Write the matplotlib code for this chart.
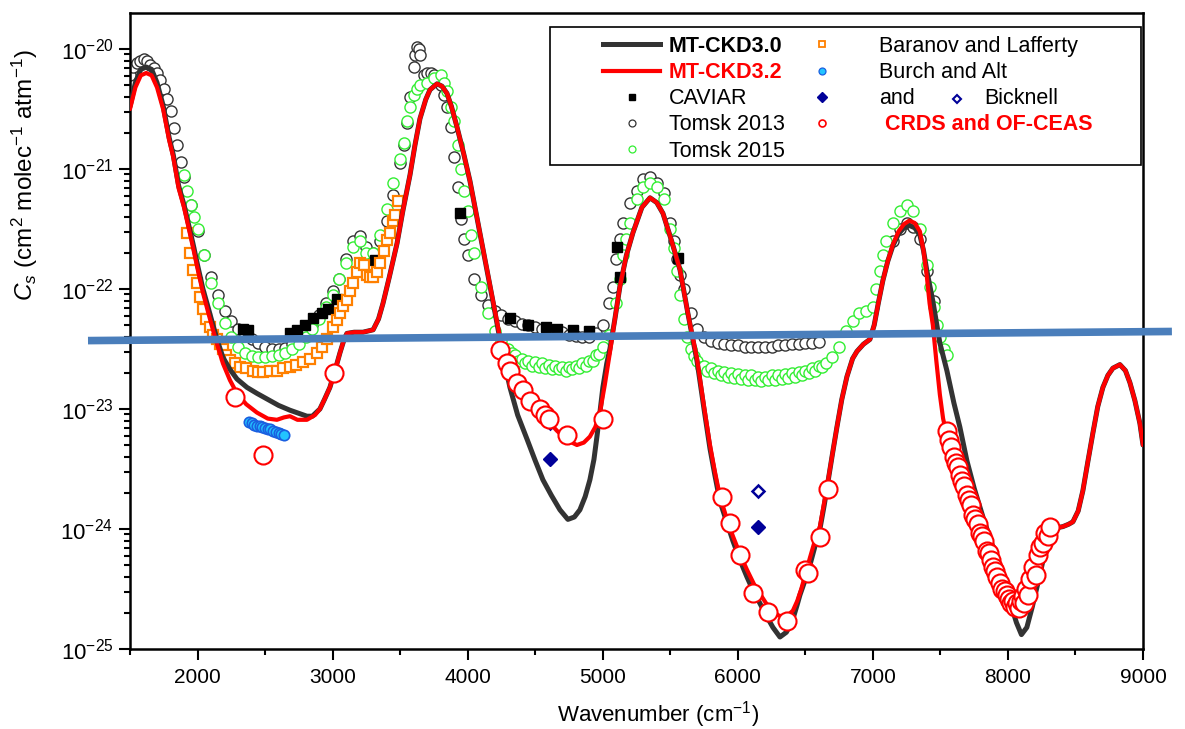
import numpy as np
import matplotlib
matplotlib.use("Agg")
import matplotlib.pyplot as plt
from matplotlib.lines import Line2D
from matplotlib.patches import Rectangle
from matplotlib.ticker import LogLocator, MultipleLocator

plt.rcParams['font.family'] = ['Liberation Sans', 'DejaVu Sans']
plt.rcParams['mathtext.fontset'] = 'custom'
plt.rcParams['mathtext.rm'] = 'Liberation Sans'
plt.rcParams['mathtext.it'] = 'Liberation Sans:italic'
plt.rcParams['mathtext.bf'] = 'Liberation Sans:bold'

# ---- data (wavenumber in cm-1, log10 of Cs) ----
ckd32_x = [1500, 1540, 1580, 1620, 1660, 1700, 1745, 1790, 1820, 1860, 1900, 1966, 2000, 2040,
           2080, 2114, 2150, 2188, 2240, 2292, 2360, 2440, 2520, 2588, 2640, 2684, 2740, 2810,
           2870, 2906, 2940, 2980, 3020, 3055, 3085, 3106, 3160, 3225, 3300, 3340, 3373, 3420,
           3477, 3520, 3573, 3610, 3647, 3690, 3721, 3773, 3810, 3847, 3880, 3921, 3970, 4017,
           4080, 4143, 4190, 4239, 4280, 4313, 4370, 4439, 4510, 4587, 4660, 4735, 4809, 4860,
           4905, 4945, 4979, 5015, 5053, 5090, 5127, 5175, 5224, 5290, 5350, 5400, 5446, 5510,
           5572, 5630, 5698, 5750, 5794, 5830, 5868, 5920, 5964, 6020, 6068, 6120, 6164, 6210,
           6260, 6300, 6334, 6370, 6408, 6440, 6470, 6500, 6534, 6570, 6608, 6640, 6660, 6700,
           6734, 6770, 6808, 6850, 6882, 6930, 6978, 7010, 7040, 7074, 7110, 7148, 7190, 7230,
           7270, 7310, 7348, 7375, 7400, 7420, 7444, 7470, 7496, 7520, 7548, 7590, 7640, 7696,
           7750, 7815, 7880, 7940, 7980, 8014, 8050, 8088, 8120, 8162, 8200, 8237, 8275, 8311,
           8360, 8407, 8450, 8481, 8520, 8555, 8590, 8629, 8665, 8703, 8740, 8777, 8829, 8870,
           8903, 8940, 8977, 9000]
ckd32_lg = [-20.5, -20.32, -20.22, -20.2, -20.22, -20.32, -20.5, -20.76, -20.9, -21.16, -21.32,
            -21.65, -21.83, -22.03, -22.2, -22.34, -22.48, -22.62, -22.76, -22.87, -22.96, -23.03,
            -23.08, -23.09, -23.07, -23.06, -23.09, -23.09, -23.05, -23.0, -22.92, -22.82, -22.67,
            -22.53, -22.42, -22.37, -22.36, -22.36, -22.34, -22.25, -22.12, -21.9, -21.62, -21.35,
            -21.05, -20.8, -20.58, -20.42, -20.34, -20.29, -20.31, -20.37, -20.48, -20.65, -20.87,
            -21.1, -21.47, -21.84, -22.12, -22.4, -22.58, -22.68, -22.8, -22.9, -23.0, -23.09,
            -23.18, -23.26, -23.3, -23.28, -23.23, -23.15, -23.03, -22.8, -22.53, -22.25, -21.98,
            -21.72, -21.53, -21.32, -21.24, -21.28, -21.37, -21.6, -21.84, -22.2, -22.58, -22.98,
            -23.3, -23.52, -23.73, -23.92, -24.06, -24.22, -24.34, -24.46, -24.54, -24.62, -24.68,
            -24.72, -24.73, -24.72, -24.68, -24.6, -24.5, -24.38, -24.24, -24.1, -23.98, -23.78,
            -23.65, -23.38, -23.15, -22.92, -22.73, -22.58, -22.52, -22.46, -22.42, -22.3, -22.12,
            -21.93, -21.77, -21.63, -21.52, -21.46, -21.43, -21.45, -21.52, -21.68, -21.9, -22.12,
            -22.3, -22.6, -22.88, -23.08, -23.22, -23.42, -23.6, -23.77, -23.93, -24.1, -24.27,
            -24.42, -24.53, -24.6, -24.66, -24.7, -24.67, -24.59, -24.47, -24.32, -24.15, -24.04,
            -23.99, -23.98, -23.96, -23.94, -23.85, -23.68, -23.45, -23.2, -22.98, -22.82, -22.72,
            -22.66, -22.63, -22.68, -22.78, -22.93, -23.12, -23.3]

ckd30_x = [1500, 1540, 1580, 1620, 1660, 1700, 1745, 1790, 1820, 1860, 1900, 1966, 2000, 2040,
           2080, 2114, 2150, 2188, 2240, 2292, 2366, 2440, 2536, 2600, 2684, 2760, 2810, 2850,
           2906, 2940, 2980, 3020, 3055, 3085, 3106, 3160, 3225, 3300, 3340, 3373, 3420, 3477,
           3520, 3573, 3610, 3647, 3690, 3721, 3773, 3810, 3847, 3880, 3921, 3970, 4017, 4080,
           4143, 4190, 4239, 4280, 4313, 4370, 4439, 4500, 4557, 4620, 4683, 4742, 4790, 4831,
           4870, 4905, 4935, 4957, 4980, 5001, 5030, 5053, 5090, 5127, 5175, 5224, 5290, 5350,
           5400, 5446, 5510, 5572, 5630, 5698, 5750, 5794, 5830, 5868, 5920, 5964, 6020, 6068,
           6120, 6164, 6210, 6260, 6312, 6360, 6408, 6440, 6460, 6500, 6534, 6570, 6608, 6640,
           6660, 6700, 6734, 6770, 6808, 6850, 6882, 6930, 6978, 7010, 7040, 7074, 7110, 7148,
           7190, 7230, 7270, 7310, 7348, 7375, 7400, 7444, 7496, 7548, 7600, 7644, 7696, 7750,
           7815, 7880, 7940, 8000, 8063, 8100, 8140, 8180, 8237, 8275, 8311, 8360, 8407, 8450,
           8481, 8520, 8555, 8590, 8629, 8665, 8703, 8740, 8777, 8829, 8870, 8903, 8940, 8977,
           9000]
ckd30_lg = [-20.48, -20.28, -20.17, -20.15, -20.17, -20.28, -20.47, -20.74, -20.88, -21.14, -21.3,
            -21.62, -21.8, -22.0, -22.16, -22.3, -22.44, -22.57, -22.67, -22.75, -22.82, -22.87,
            -22.93, -22.97, -23.01, -23.04, -23.06, -23.06, -23.0, -22.92, -22.82, -22.67, -22.53,
            -22.42, -22.37, -22.36, -22.36, -22.34, -22.25, -22.12, -21.9, -21.62, -21.35, -21.05,
            -20.8, -20.58, -20.42, -20.34, -20.29, -20.31, -20.37, -20.48, -20.65, -20.87, -21.1,
            -21.47, -21.84, -22.12, -22.42, -22.65, -22.82, -23.05, -23.25, -23.43, -23.59, -23.72,
            -23.84, -23.92, -23.9, -23.84, -23.73, -23.59, -23.42, -23.23, -23.02, -22.82, -22.62,
            -22.5, -22.25, -21.98, -21.72, -21.53, -21.32, -21.24, -21.28, -21.37, -21.6, -21.84,
            -22.2, -22.6, -23.0, -23.33, -23.55, -23.77, -23.95, -24.1, -24.27, -24.4, -24.53,
            -24.62, -24.72, -24.82, -24.9, -24.86, -24.75, -24.63, -24.55, -24.42, -24.3, -24.15,
            -24.0, -23.8, -23.66, -23.38, -23.15, -22.92, -22.73, -22.58, -22.52, -22.46, -22.42,
            -22.3, -22.12, -21.93, -21.77, -21.64, -21.54, -21.49, -21.47, -21.49, -21.55, -21.68,
            -21.85, -22.1, -22.45, -22.68, -22.95, -23.15, -23.43, -23.66, -23.9, -24.12, -24.32,
            -24.55, -24.78, -24.88, -24.82, -24.65, -24.38, -24.18, -24.05, -23.99, -23.98, -23.96,
            -23.94, -23.85, -23.68, -23.45, -23.2, -22.98, -22.82, -22.72, -22.66, -22.63, -22.68,
            -22.78, -22.93, -23.12, -23.3]

tomsk13_x = [1500, 1525, 1550, 1575, 1600, 1625, 1650, 1675, 1700, 1725, 1750, 1775, 1800, 1825,
             1850, 1875, 1900, 1950, 2000, 2050, 2100, 2150, 2200, 2250, 2300, 2350, 2400, 2450,
             2500, 2550, 2600, 2650, 2700, 2750, 2800, 2850, 2900, 2950, 3000, 3050, 3100, 3150,
             3200, 3250, 3300, 3350, 3400, 3450, 3500, 3525, 3550, 3575, 3600, 3612, 3625, 3637,
             3650, 3675, 3700, 3725, 3750, 3775, 3800, 3825, 3850, 3875, 3900, 3925, 3950, 3975,
             4000, 4050, 4100, 4150, 4200, 4250, 4300, 4350, 4400, 4450, 4500, 4550, 4600, 4650,
             4700, 4750, 4800, 4850, 4900, 4950, 5000, 5050, 5075, 5100, 5125, 5150, 5200, 5250,
             5300, 5350, 5400, 5450, 5500, 5525, 5550, 5575, 5600, 5650, 5700, 5750, 5800, 5850,
             5900, 5950, 6000, 6050, 6100, 6150, 6200, 6250, 6300, 6350, 6400, 6450, 6500, 6550,
             6600, 7150, 7200, 7250, 7300, 7350, 7400, 7450]
tomsk13_lg = [-20.22, -20.15, -20.12, -20.1, -20.08, -20.1, -20.13, -20.16, -20.2, -20.26, -20.33,
              -20.42, -20.52, -20.66, -20.8, -20.94, -21.07, -21.3, -21.52, -21.72, -21.9, -22.05,
              -22.18, -22.27, -22.33, -22.38, -22.42, -22.45, -22.48, -22.5, -22.5, -22.49, -22.46,
              -22.42, -22.36, -22.3, -22.22, -22.12, -22.02, -21.92, -21.75, -21.6, -21.56, -21.65,
              -21.7, -21.6, -21.43, -21.22, -20.95, -20.8, -20.62, -20.4, -20.15, -20.05, -19.98,
              -20.0, -20.05, -20.22, -20.2, -20.2, -20.22, -20.26, -20.3, -20.38, -20.48, -20.65,
              -20.9, -21.15, -21.42, -21.58, -21.72, -21.92, -22.05, -22.13, -22.18, -22.22, -22.25,
              -22.27, -22.29, -22.3, -22.32, -22.33, -22.34, -22.35, -22.36, -22.38, -22.39, -22.4,
              -22.4, -22.37, -22.3, -22.12, -21.98, -21.75, -21.58, -21.45, -21.28, -21.18, -21.08,
              -21.07, -21.12, -21.2, -21.45, -21.6, -21.75, -21.88, -22.0, -22.2, -22.33, -22.4,
              -22.43, -22.45, -22.46, -22.47, -22.47, -22.48, -22.48, -22.48, -22.48, -22.48,
              -22.47, -22.47, -22.46, -22.46, -22.45, -22.45, -22.44, -21.6, -21.5, -21.45, -21.48,
              -21.58, -21.85, -22.1]

tomsk15_x = [1900, 1925, 1950, 1975, 2000, 2050, 2100, 2150, 2200, 2250, 2300, 2350, 2400, 2450,
             2500, 2550, 2600, 2650, 2700, 2750, 2800, 2850, 2900, 2950, 3000, 3050, 3100, 3150,
             3200, 3250, 3300, 3350, 3400, 3450, 3500, 3525, 3550, 3575, 3600, 3625, 3650, 3700,
             3750, 3800, 3825, 3850, 3875, 3900, 3925, 3950, 3975, 4000, 4025, 4050, 4100, 4150,
             4200, 4250, 4300, 4325, 4350, 4375, 4400, 4425, 4450, 4475, 4500, 4525, 4550, 4575,
             4600, 4625, 4650, 4675, 4700, 4725, 4750, 4775, 4800, 4825, 4850, 4875, 4900, 4925,
             4950, 4975, 5000, 5050, 5100, 5125, 5150, 5175, 5200, 5250, 5300, 5350, 5400, 5450,
             5500, 5525, 5550, 5575, 5600, 5625, 5650, 5675, 5700, 5725, 5750, 5775, 5800, 5825,
             5850, 5875, 5900, 5925, 5950, 5975, 6000, 6025, 6050, 6075, 6100, 6125, 6150, 6175,
             6200, 6225, 6250, 6275, 6300, 6325, 6350, 6375, 6400, 6425, 6450, 6475, 6500, 6525,
             6550, 6575, 6600, 6625, 6650, 6700, 6750, 6800, 6850, 6900, 6950, 7000, 7025, 7050,
             7075, 7100, 7150, 7200, 7250, 7300, 7350, 7400, 7425, 7450, 7475, 7500, 7525, 7550]
tomsk15_lg = [-21.05, -21.18, -21.3, -21.4, -21.5, -21.72, -21.95, -22.12, -22.28, -22.4, -22.48,
              -22.53, -22.56, -22.57, -22.57, -22.56, -22.55, -22.53, -22.5, -22.46, -22.4, -22.33,
              -22.25, -22.15, -22.05, -21.92, -21.78, -21.65, -21.6, -21.7, -21.7, -21.55, -21.33,
              -21.12, -20.92, -20.78, -20.6, -20.48, -20.38, -20.33, -20.3, -20.28, -20.24, -20.22,
              -20.28, -20.35, -20.48, -20.6, -20.8, -21.0, -21.18, -21.35, -21.55, -21.7, -21.98,
              -22.2, -22.35, -22.43, -22.5, -22.53, -22.55, -22.6, -22.58, -22.62, -22.6, -22.64,
              -22.61, -22.65, -22.62, -22.66, -22.63, -22.67, -22.64, -22.67, -22.65, -22.68,
              -22.65, -22.67, -22.64, -22.66, -22.62, -22.64, -22.6, -22.6, -22.55, -22.54, -22.48,
              -22.38, -22.12, -21.92, -21.72, -21.58, -21.45, -21.25, -21.15, -21.12, -21.15,
              -21.25, -21.5, -21.66, -21.85, -22.05, -22.25, -22.4, -22.5, -22.56, -22.6, -22.65,
              -22.64, -22.68, -22.66, -22.7, -22.68, -22.72, -22.69, -22.73, -22.7, -22.74, -22.71,
              -22.75, -22.72, -22.76, -22.72, -22.76, -22.73, -22.77, -22.73, -22.76, -22.72,
              -22.76, -22.72, -22.75, -22.71, -22.74, -22.7, -22.73, -22.69, -22.72, -22.68, -22.7,
              -22.66, -22.68, -22.64, -22.65, -22.62, -22.57, -22.48, -22.35, -22.27, -22.2,
              -22.18, -22.15, -22.0, -21.85, -21.72, -21.6, -21.45, -21.35, -21.3, -21.35, -21.5,
              -21.8, -21.98, -22.15, -22.3, -22.4, -22.5, -22.55]

caviar_x = [2340, 2370, 2684, 2736, 2795, 2855, 2921, 2966, 3032, 3314, 3943, 4313, 4450, 4580,
            4661, 4780, 4900, 5105, 5127, 5557]
caviar_lg = [-22.33, -22.34, -22.37, -22.34, -22.3, -22.24, -22.2, -22.17, -22.08, -21.76, -21.37,
             -22.24, -22.3, -22.32, -22.33, -22.34, -22.35, -21.65, -21.9, -21.74]

baranov_x = [1922, 1944, 1966, 1996, 2018, 2040, 2066, 2092, 2118, 2144, 2166, 2188, 2214, 2240,
             2276, 2314, 2360, 2410, 2450, 2484, 2536, 2588, 2636, 2684, 2732, 2780, 2832, 2884,
             2920, 2958, 3003, 3030, 3055, 3080, 3106, 3130, 3151, 3180, 3203, 3230, 3255, 3280,
             3300, 3330, 3351, 3380, 3402, 3425, 3447, 3462, 3484]
baranov_lg = [-21.53, -21.7, -21.84, -21.95, -22.07, -22.17, -22.25, -22.32, -22.38, -22.42, -22.46,
              -22.5, -22.55, -22.59, -22.62, -22.65, -22.66, -22.68, -22.69, -22.69, -22.68, -22.68,
              -22.66, -22.65, -22.63, -22.61, -22.58, -22.53, -22.48, -22.42, -22.32, -22.26,
              -22.2, -22.14, -22.09, -22.02, -21.95, -21.86, -21.78, -21.8, -21.88, -21.9, -21.9,
              -21.86, -21.78, -21.68, -21.59, -21.53, -21.43, -21.38, -21.27]

burch_x = [2380, 2400, 2420, 2440, 2460, 2480, 2500, 2520, 2540, 2560, 2580, 2600, 2620, 2640]
burch_lg = [-23.11, -23.12, -23.13, -23.14, -23.145, -23.15, -23.16, -23.165, -23.17, -23.18,
            -23.19, -23.2, -23.21, -23.22]

bick_filled_x = [4610, 6150]
bick_filled_lg = [-23.42, -23.98]
bick_open_x = [4610, 6150]
bick_open_lg = [-23.12, -23.68]

crds_x = [2277, 2485, 3010, 4239, 4290, 4313, 4365, 4409, 4461, 4535, 4572, 4600, 4735, 5001,
          5882, 5942, 6016, 6112, 6223, 6364, 6497, 6519, 6608, 6667,
          7548, 7565, 7580, 7598, 7612, 7630, 7644, 7660, 7676, 7696, 7712, 7726, 7740, 7758,
          7775, 7792, 7806, 7822, 7844, 7860, 7875, 7888, 7905, 7920, 7940, 7958, 7975, 7990,
          8005, 8020, 8035, 8050, 8065, 8080, 8095, 8108, 8120, 8135, 8150, 8165, 8184, 8205,
          8222, 8237, 8256, 8274, 8295, 8311]
crds_lg = [-22.9, -23.38, -22.7, -22.51, -22.62, -22.68, -22.78, -22.84, -22.93, -23.0, -23.05,
           -23.08, -23.22, -23.08,
           -23.73, -23.95, -24.22, -24.53, -24.69, -24.77, -24.34, -24.37, -24.07, -23.67,
           -23.18, -23.26, -23.32, -23.4, -23.45, -23.48, -23.55, -23.6, -23.64, -23.72, -23.76,
           -23.8, -23.88, -23.92, -23.96, -24.03, -24.06, -24.1, -24.18, -24.2, -24.26, -24.32,
           -24.35, -24.4, -24.45, -24.5, -24.52, -24.55, -24.58, -24.62, -24.6, -24.65, -24.62,
           -24.66, -24.6, -24.56, -24.62, -24.5, -24.55, -24.42, -24.32, -24.38, -24.22, -24.15,
           -24.12, -24.03, -24.06, -23.98]

# blue reference line drawn over the figure
ref_x = [1189, 9214]
ref_lg = [-22.43, -22.354]


def tv(lg):
    return np.power(10.0, np.asarray(lg))


W, H = 1185, 729
fig = plt.figure(figsize=(W / 100, H / 100), dpi=100)
ax = fig.add_axes([130 / W, 1 - 649 / H, (1143 - 130) / W, (649 - 13) / H])

open_kw = dict(linestyle='none', markerfacecolor='white', markeredgewidth=1.0)
ax.plot(tomsk13_x, tv(tomsk13_lg), marker='o', markersize=8, markeredgecolor='#333333',
        zorder=2, **open_kw)
ax.plot(tomsk15_x, tv(tomsk15_lg), marker='o', markersize=8, markeredgecolor='#33ee33',
        zorder=3, **open_kw)
ax.plot(caviar_x, tv(caviar_lg), linestyle='none', marker='s', markersize=7, color='black',
        zorder=4)
ax.plot(baranov_x, tv(baranov_lg), marker='s', markersize=6.5, markeredgecolor='#ff8000',
        linestyle='none', markerfacecolor='white', markeredgewidth=1.6, zorder=4)
ax.plot(ckd30_x, tv(ckd30_lg), color='#333333', lw=3.6, zorder=5, solid_capstyle='round')
ax.plot(ckd32_x, tv(ckd32_lg), color='#ff0000', lw=3.0, zorder=6, solid_capstyle='round')
ax.plot(burch_x, tv(burch_lg), linestyle='none', marker='o', markersize=7.5,
        markerfacecolor='#22c4ff', markeredgecolor='#1a5fe0', markeredgewidth=1.2, zorder=7)
ax.plot(bick_filled_x, tv(bick_filled_lg), linestyle='none', marker='D', markersize=7,
        color='#000099', zorder=7)
ax.plot(bick_open_x, tv(bick_open_lg), linestyle='none', marker='D', markersize=6.5,
        markerfacecolor='white', markeredgecolor='#000099', markeredgewidth=1.8, zorder=7)
ax.plot(crds_x, tv(crds_lg), marker='o', markersize=13, markeredgecolor='#ff0000',
        linestyle='none', markerfacecolor='white', markeredgewidth=1.5, zorder=8)
ax.plot(ref_x, tv(ref_lg), color='#4a7ebb', lw=5.5, zorder=10, clip_on=False,
        solid_capstyle='butt')

ax.set_yscale('log')
ax.set_xlim(1500, 9000)
ax.set_ylim(1e-25, 10 ** -19.7)
ax.xaxis.set_major_locator(MultipleLocator(1000))
ax.xaxis.set_minor_locator(MultipleLocator(500))
ax.yaxis.set_major_locator(LogLocator(base=10, numticks=10))
ax.yaxis.set_minor_locator(LogLocator(base=10, subs=np.arange(2, 10), numticks=10))
ax.tick_params(which='both', direction='out', top=False, right=False, width=1.5)
ax.tick_params(which='major', length=8)
ax.tick_params(which='minor', length=4.5)
ax.tick_params(axis='x', which='major', labelsize=15, pad=6)
ax.tick_params(axis='y', which='major', labelsize=16, pad=4)
for sp in ax.spines.values():
    sp.set_linewidth(1.8)

ax.set_xlabel('Wavenumber (cm$^{-1}$)', fontsize=16)
ax.xaxis.set_label_coords(0.521, -0.078)
ax.set_ylabel('$C_s$ (cm$^2$ molec$^{-1}$ atm$^{-1}$)', fontsize=17.5)
ax.yaxis.set_label_coords(-0.089, 0.745)

# legend: frame drawn by hand, two legends for the two columns
FS = 15.5
frame = Rectangle((550 / W, 1 - 165 / H), 591 / W, 138 / H, transform=fig.transFigure,
                  facecolor='white', edgecolor='black', lw=1.2, zorder=19, clip_on=False)
ax.add_patch(frame)

h1 = [
    Line2D([], [], color='#333333', lw=3.6),
    Line2D([], [], color='#ff0000', lw=3.0),
    Line2D([], [], ls='none', marker='s', ms=5, color='black'),
    Line2D([], [], ls='none', marker='o', ms=5, mfc='white', mec='#333333', mew=0.9),
    Line2D([], [], ls='none', marker='o', ms=5, mfc='white', mec='#33ee33', mew=0.9),
]
l1 = ['MT-CKD3.0', 'MT-CKD3.2', 'CAVIAR', 'Tomsk 2013', 'Tomsk 2015']
h2 = [
    Line2D([], [], ls='none', marker='s', ms=4.5, mfc='white', mec='#ff8000', mew=1.3),
    Line2D([], [], ls='none', marker='o', ms=5, mfc='#22c4ff', mec='#1a5fe0', mew=0.9),
    Line2D([], [], ls='none', marker='D', ms=5, color='#000099'),
    Line2D([], [], ls='none', marker='o', ms=5, mfc='white', mec='#ff0000', mew=1.2),
]
l2 = ['Baranov and Lafferty', 'Burch and Alt', 'and', ' CRDS and OF-CEAS']

common = dict(loc='upper left', bbox_transform=fig.transFigure, fontsize=FS, frameon=False,
              borderpad=0, borderaxespad=0, handlelength=2.65, labelspacing=0.24)
leg1 = ax.legend(h1, l1, bbox_to_anchor=(603 / W, 1 - 36 / H), handletextpad=0.4, **common)
leg1.set_zorder(20)
ax.add_artist(leg1)
leg2 = ax.legend(h2, l2, bbox_to_anchor=(793 / W, 1 - 36 / H), handletextpad=1.35, **common)
leg2.set_zorder(20)

t1 = leg1.get_texts()
t1[0].set_fontweight('bold')
t1[1].set_fontweight('bold')
t1[1].set_color('#ff0000')
t2 = leg2.get_texts()
t2[3].set_fontweight('bold')
t2[3].set_color('#ff0000')

# open diamond + "Bicknell" placed after the "and" entry
fig.canvas.draw()
bb = t2[2].get_window_extent()
inv = fig.transFigure.inverted()
mx, my = inv.transform((bb.x1 + 42, (bb.y0 + bb.y1) / 2))
tx, _ = inv.transform((bb.x1 + 69, 0))
ax.add_line(Line2D([mx], [my], transform=fig.transFigure, ls='none', marker='D', ms=4.5,
                   mfc='white', mec='#000099', mew=1.5, zorder=21, clip_on=False))
ax.text(tx, my, 'Bicknell', transform=fig.transFigure, fontsize=FS, va='center', ha='left',
        zorder=21)

fig.savefig('out.png', dpi=100)
